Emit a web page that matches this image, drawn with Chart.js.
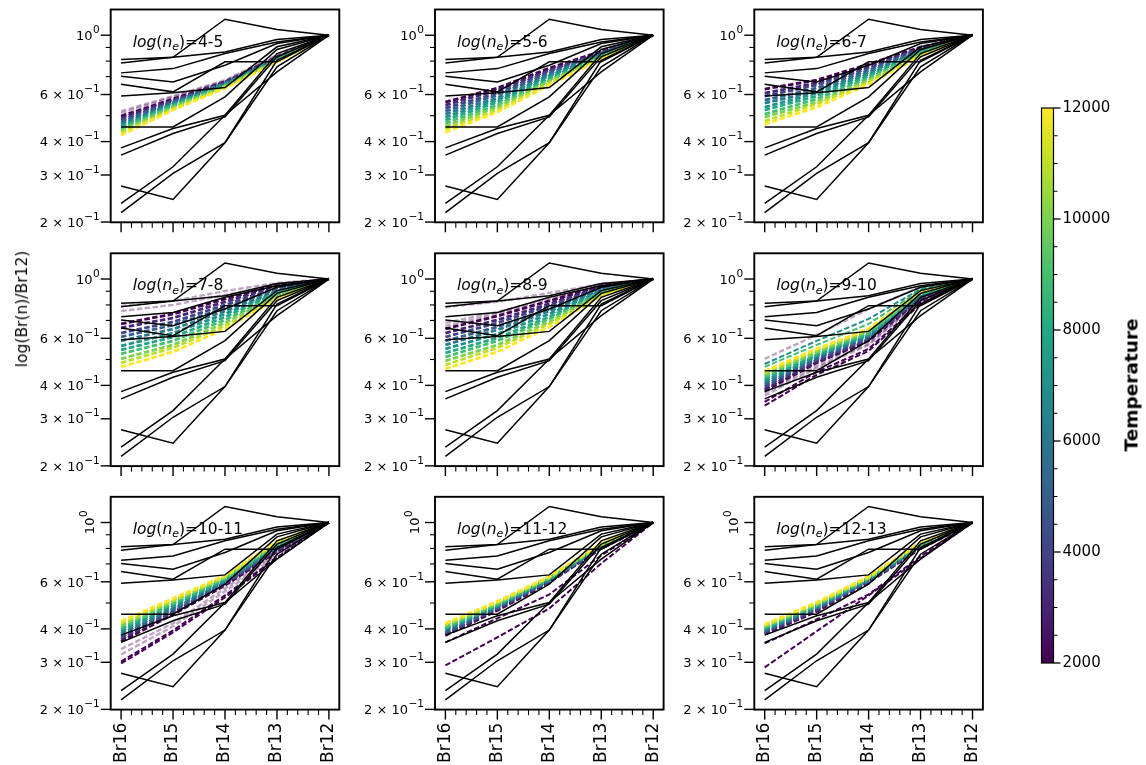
<!DOCTYPE html>
<html><head><meta charset="utf-8">
<script src="https://cdn.jsdelivr.net/npm/chart.js@4.4.0/dist/chart.umd.min.js"></script>
<style>
html,body{margin:0;padding:0;background:#fff;}
#wrap{position:relative;width:1146px;height:765px;overflow:hidden;background:#fff;}
#wrap canvas{position:absolute;left:0;top:0;}
.lbl{position:absolute;font-family:"DejaVu Sans";color:#000;white-space:nowrap;transform:translate(-50%,-50%) rotate(-90deg);}
</style></head><body><div id="wrap"></div>
<script>
// ---------------- data ----------------
const xTickLabels = ['Br16','Br15','Br14','Br13','Br12'];
const yMajorTicks = [0.2, 0.3, 0.4, 0.6, 1.0];
const yTickMantissa = ['2','3','4','6',''];
const yTickExponent = ['\u22121','\u22121','\u22121','\u22121','0'];
const yMinorTicks = [0.5, 0.7, 0.8, 0.9];
const panelNames = ['4-5','5-6','6-7','7-8','8-9','9-10','10-11','11-12','12-13'];
const temps = [2000,3000,4000,5000,6000,7000,8000,9000,10000,11000,12000];
const cbarTicks = [2000,4000,6000,8000,10000,12000];
const cbarMin = 2000, cbarMax = 12000;

// observed line ratios: Br16, Br15, Br14, Br13, Br12
const observed = [
  [0.811,0.827,1.148,1.050,1],
  [0.788,0.827,0.866,0.963,1],
  [0.723,0.750,0.854,0.944,1],
  [0.703,0.669,0.772,0.931,1],
  [0.656,0.614,0.795,0.795,1],
  [0.593,0.609,0.637,0.905,1],
  [0.454,0.454,0.588,0.884,1],
  [0.379,0.448,0.502,0.854,1],
  [0.356,0.429,0.495,0.830,1],
  [0.273,0.243,0.396,0.806,1],
  [0.235,0.322,0.502,0.729,1],
  [0.217,0.304,0.396,0.761,1]
];

// model curves, one row per temperature in `temps`
const model_4_5 = [
  [0.498,0.577,0.668,0.828,1],[0.490,0.572,0.668,0.828,1],[0.481,0.567,0.662,0.821,1],
  [0.473,0.562,0.662,0.821,1],[0.465,0.557,0.656,0.814,1],[0.457,0.553,0.656,0.814,1],
  [0.453,0.548,0.651,0.807,1],[0.446,0.543,0.645,0.807,1],[0.438,0.538,0.645,0.800,1],
  [0.431,0.529,0.639,0.800,1],[0.423,0.525,0.634,0.793,1]];
const model_5_6 = [
  [0.562,0.634,0.753,0.871,1],[0.548,0.623,0.740,0.864,1],[0.534,0.607,0.734,0.857,1],
  [0.520,0.597,0.721,0.857,1],[0.507,0.582,0.709,0.849,1],[0.494,0.572,0.703,0.842,1],
  [0.481,0.562,0.691,0.835,1],[0.469,0.548,0.679,0.828,1],[0.457,0.538,0.673,0.828,1],
  [0.446,0.525,0.662,0.821,1],[0.434,0.516,0.651,0.814,1]];
const model_6_7 = [
  [0.629,0.679,0.779,0.902,1],[0.607,0.662,0.766,0.894,1],[0.592,0.651,0.753,0.887,1],
  [0.572,0.634,0.740,0.879,1],[0.557,0.618,0.727,0.871,1],[0.538,0.607,0.715,0.871,1],
  [0.525,0.592,0.703,0.864,1],[0.507,0.577,0.691,0.857,1],[0.494,0.562,0.679,0.849,1],
  [0.477,0.553,0.668,0.842,1],[0.465,0.538,0.656,0.835,1]];
const model_7_8 = [
  [0.679,0.740,0.842,0.950,1],[0.656,0.715,0.821,0.942,1],[0.628,0.691,0.800,0.926,1],
  [0.607,0.673,0.779,0.918,1],[0.587,0.650,0.759,0.902,1],[0.562,0.628,0.740,0.894,1],
  [0.543,0.607,0.721,0.887,1],[0.525,0.587,0.703,0.871,1],[0.503,0.567,0.685,0.864,1],
  [0.486,0.553,0.668,0.849,1],[0.469,0.534,0.651,0.842,1]];
const model_8_9 = [
  [0.651,0.727,0.828,0.942,1],[0.628,0.703,0.807,0.934,1],[0.607,0.685,0.793,0.926,1],
  [0.587,0.662,0.773,0.918,1],[0.567,0.645,0.759,0.910,1],[0.548,0.623,0.740,0.902,1],
  [0.529,0.602,0.721,0.894,1],[0.511,0.587,0.709,0.887,1],[0.494,0.567,0.691,0.879,1],
  [0.477,0.553,0.679,0.871,1],[0.461,0.534,0.662,0.864,1]];
const model_9_10 = [
  [0.382,0.486,0.587,0.842,1],[0.388,0.490,0.592,0.849,1],[0.395,0.498,0.597,0.857,1],
  [0.402,0.503,0.607,0.857,1],[0.409,0.511,0.613,0.864,1],[0.416,0.516,0.618,0.871,1],
  [0.423,0.520,0.623,0.879,1],[0.431,0.529,0.629,0.887,1],[0.438,0.534,0.639,0.887,1],
  [0.446,0.543,0.645,0.894,1],[0.453,0.548,0.651,0.902,1]];
const model_10_11 = [
  [0.359,0.453,0.582,0.779,1],[0.366,0.461,0.587,0.786,1],[0.372,0.465,0.592,0.793,1],
  [0.378,0.473,0.597,0.800,1],[0.385,0.477,0.602,0.807,1],[0.392,0.486,0.607,0.814,1],
  [0.399,0.494,0.613,0.821,1],[0.405,0.498,0.618,0.828,1],[0.412,0.507,0.623,0.835,1],
  [0.420,0.511,0.629,0.842,1],[0.427,0.520,0.634,0.849,1]];
const model_11_12 = [
  [0.378,0.469,0.597,0.800,1],[0.382,0.473,0.602,0.800,1],[0.385,0.477,0.602,0.807,1],
  [0.388,0.481,0.607,0.807,1],[0.395,0.486,0.607,0.814,1],[0.399,0.486,0.613,0.814,1],
  [0.402,0.490,0.618,0.821,1],[0.405,0.494,0.618,0.821,1],[0.412,0.498,0.623,0.828,1],
  [0.416,0.503,0.623,0.828,1],[0.420,0.507,0.629,0.835,1]];
const model_12_13 = [
  [0.382,0.465,0.597,0.800,1],[0.385,0.469,0.602,0.807,1],[0.388,0.473,0.602,0.807,1],
  [0.392,0.477,0.607,0.814,1],[0.395,0.481,0.607,0.814,1],[0.399,0.486,0.613,0.821,1],
  [0.402,0.486,0.618,0.821,1],[0.405,0.490,0.618,0.828,1],[0.409,0.494,0.623,0.835,1],
  [0.412,0.498,0.623,0.835,1],[0.416,0.503,0.629,0.842,1]];

// faint (semi-transparent) curves: [temperature, Br16..Br12]
const faint_4_5 = [[2000,0.520,0.592,0.679,0.842,1],[2000,0.511,0.587,0.673,0.835,1]];
const faint_7_8 = [[2000,0.793,0.828,0.902,0.966,1],[2000,0.759,0.800,0.871,0.950,1]];
const faint_8_9 = [[2000,0.786,0.821,0.887,0.958,1],[2000,0.685,0.753,0.842,0.950,1],[2000,0.668,0.740,0.828,0.942,1]];
const faint_9_10 = [[2000,0.503,0.618,0.773,0.934,1],[2000,0.375,0.473,0.572,0.835,1],[2000,0.366,0.465,0.567,0.828,1]];
const faint_10_11 = [[2000,0.336,0.420,0.567,0.766,1],[2000,0.321,0.409,0.553,0.753,1]];
// additional solid curves: [temperature, Br16..Br12]
const extra_9_10 = [[9000,0.469,0.567,0.679,0.910,1],[7000,0.481,0.587,0.709,0.918,1],[2000,0.347,0.449,0.548,0.814,1],[2000,0.336,0.438,0.538,0.807,1]];
const extra_10_11 = [[2000,0.302,0.395,0.534,0.740,1],[2000,0.297,0.388,0.525,0.734,1]];
const extra_11_12 = [[2000,0.356,0.438,0.538,0.753,1],[2000,0.292,0.372,0.477,0.703,1]];
const extra_12_13 = [[2000,0.353,0.434,0.538,0.746,1],[2000,0.287,0.392,0.534,0.734,1]];

const modelSets = [model_4_5,model_5_6,model_6_7,model_7_8,model_8_9,model_9_10,model_10_11,model_11_12,model_12_13];
const faintSets = [faint_4_5,[],[],faint_7_8,faint_8_9,faint_9_10,faint_10_11,[],[]];
const extraSets = [[],[],[],[],[],extra_9_10,extra_10_11,extra_11_12,extra_12_13];

// ---------------- layout / style ----------------
const W = 1146, H = 765;
const colLeft = [110.7, 435, 754.3], rowTop = [9.5, 253.3, 496.8];
const PW = 228.6, PH = 212.8;
const FONT = '"DejaVu Sans"';
const wrap = document.getElementById('wrap');

const VIR = [[68,1,84],[72,36,117],[65,68,135],[53,95,141],[42,120,142],[33,145,140],[34,168,132],[68,191,112],[122,209,81],[189,223,38],[253,231,37]];
function viridis(T, alpha){
  let t = (T - cbarMin)/(cbarMax - cbarMin); t = Math.max(0, Math.min(1, t));
  const p = t*10; const i = Math.min(9, Math.floor(p)); const f = p - i;
  const c = VIR[i].map((v,k)=>Math.round(v + (VIR[i+1][k]-v)*f));
  return `rgba(${c[0]},${c[1]},${c[2]},${alpha})`;
}
function addCanvas(){
  const c = document.createElement('canvas'); c.width = W; c.height = H;
  c.style.width = W+'px'; c.style.height = H+'px'; wrap.appendChild(c); return c;
}
function pts(row){ return row.map((v,k)=>({x:k, y:v})); }
function seg(ctx,x1,y1,x2,y2){ ctx.beginPath(); ctx.moveTo(x1,y1); ctx.lineTo(x2,y2); ctx.stroke(); }

function drawPanelLabel(ctx, x, y, name){
  const parts = [
    ['log', 'italic 15.5px '+FONT, 0],
    ['(', '15.5px '+FONT, 0],
    ['n', 'italic 15.5px '+FONT, 0],
    ['e', 'italic 11px '+FONT, 3.5],
    [')', '15.5px '+FONT, 0],
    ['='+name, '15.5px '+FONT, 0]
  ];
  ctx.textAlign = 'left'; ctx.textBaseline = 'alphabetic';
  parts.forEach(p=>{ ctx.font = p[1]; ctx.fillText(p[0], x, y + p[2]); x += ctx.measureText(p[0]).width; });
}
function drawSci(ctx, mant, exp, xr, y){
  const base = mant ? mant + ' \u00d7 10' : '10';
  ctx.font = '13px '+FONT; const wb = ctx.measureText(base).width;
  ctx.font = '10.5px '+FONT; const ws = ctx.measureText(exp).width;
  const x0 = xr - wb - ws;
  ctx.textAlign = 'left'; ctx.textBaseline = 'alphabetic';
  ctx.font = '13px '+FONT; ctx.fillText(base, x0, y + 4.7);
  ctx.font = '10.5px '+FONT; ctx.fillText(exp, x0 + wb + 0.5, y - 2.3);
}

function makePanel(idx){
  const col = idx % 3, row = Math.floor(idx/3);
  const L = colLeft[col], T = rowTop[row];
  const ds = [];
  let ord = 1000;
  faintSets[idx].forEach(r=>ds.push({data:pts(r.slice(1)), borderColor:viridis(r[0],0.35), borderWidth:2.4, borderDash:[5.5,2.4], pointRadius:0, order:ord--}));
  modelSets[idx].forEach((r,k)=>ds.push({data:pts(r), borderColor:viridis(temps[k],1), borderWidth:2.8, borderDash:[5.5,2.4], pointRadius:0, order:ord--}));
  extraSets[idx].forEach(r=>ds.push({data:pts(r.slice(1)), borderColor:viridis(r[0],1), borderWidth:2, borderDash:[5.5,2.4], pointRadius:0, order:ord--}));
  observed.forEach(r=>ds.push({data:pts(r), borderColor:'#000', borderWidth:1.5, pointRadius:0, order:0}));

  const deco = {
    id:'deco'+idx,
    afterDraw(chart){
      const ctx = chart.ctx, a = chart.chartArea, xs = chart.scales.x, ys = chart.scales.y;
      ctx.save();
      ctx.strokeStyle = '#000'; ctx.fillStyle = '#000'; ctx.setLineDash([]);
      ctx.lineWidth = 1.4;
      yMajorTicks.forEach(v=>{ const y = ys.getPixelForValue(v); seg(ctx, a.left-10, y, a.left, y); });
      ctx.lineWidth = 1.1;
      yMinorTicks.forEach(v=>{ const y = ys.getPixelForValue(v); seg(ctx, a.left-5, y, a.left, y); });
      ctx.lineWidth = 1.4;
      xTickLabels.forEach((s,k)=>{ const x = xs.getPixelForValue(k); seg(ctx, x, a.bottom, x, a.bottom+10); });
      ctx.lineWidth = 1.1;
      for(let k=0;k<xTickLabels.length-1;k++){ for(let j=1;j<5;j++){ const x = xs.getPixelForValue(k + j/5); seg(ctx, x, a.bottom, x, a.bottom+5.5); } }
      yMajorTicks.forEach((v,k)=>{
        const y = ys.getPixelForValue(v);
        if(row === 2 && v === 1){
          ctx.save(); ctx.translate(a.left-21, y); ctx.rotate(-Math.PI/2);
          ctx.font = '13px '+FONT; const wb = ctx.measureText('10').width;
          ctx.font = '10.5px '+FONT; const ws = ctx.measureText('0').width;
          const x0 = -(wb+ws)/2;
          ctx.textBaseline='alphabetic'; ctx.textAlign='left';
          ctx.font = '13px '+FONT; ctx.fillText('10', x0, 4.7);
          ctx.font = '10.5px '+FONT; ctx.fillText('0', x0+wb+0.5, -2.3);
          ctx.restore();
        } else {
          drawSci(ctx, yTickMantissa[k], yTickExponent[k], a.left-11.5, y);
        }
      });
      if(row === 2){
        ctx.font = '17px '+FONT; ctx.textAlign='right'; ctx.textBaseline='middle';
        xTickLabels.forEach((s,k)=>{
          const x = xs.getPixelForValue(k);
          ctx.save(); ctx.translate(x, a.bottom+13); ctx.rotate(-Math.PI/2); ctx.fillText(s, 0, 0); ctx.restore();
        });
      }
      ctx.lineWidth = 1.9;
      ctx.strokeRect(a.left, a.top, a.right-a.left, a.bottom-a.top);
      drawPanelLabel(ctx, a.left+22, a.top+37, panelNames[idx]);
      ctx.restore();
    }
  };

  new Chart(addCanvas(), {
    type:'line',
    data:{datasets:ds},
    options:{
      responsive:false, animation:false, events:[], devicePixelRatio:1,
      layout:{padding:{left:L, top:T, right:W-L-PW, bottom:H-T-PH}},
      plugins:{legend:{display:false}, tooltip:{enabled:false}},
      elements:{line:{tension:0, fill:false}},
      scales:{
        x:{type:'linear', min:-0.2, max:4.2, display:false},
        y:{type:'logarithmic', min:0.1996, max:1.248, display:false}
      }
    },
    plugins:[deco]
  });
}
for(let i=0;i<9;i++) makePanel(i);

// ---------------- colorbar ----------------
const cbDeco = {
  id:'cbDeco',
  afterDraw(chart){
    const ctx = chart.ctx, a = chart.chartArea, ys = chart.scales.y;
    ctx.save(); ctx.strokeStyle='#000'; ctx.fillStyle='#000';
    ctx.lineWidth = 1.2; ctx.strokeRect(a.left, a.top, a.right-a.left, a.bottom-a.top);
    ctx.lineWidth = 1.3;
    cbarTicks.forEach(v=>{ const y = ys.getPixelForValue(v); seg(ctx, a.right, y, a.right+7, y); });
    ctx.lineWidth = 1;
    for(let v=cbarMin+500; v<cbarMax; v+=500){ if(v % 2000 !== 0){ const y = ys.getPixelForValue(v); seg(ctx, a.right, y, a.right+4, y); } }
    ctx.font = '15px '+FONT; ctx.textAlign='left'; ctx.textBaseline='middle';
    cbarTicks.forEach(v=>{ const y = ys.getPixelForValue(v); ctx.fillText(String(v), a.right+9, y); });
    ctx.restore();
  }
};
new Chart(addCanvas(), {
  type:'bar',
  data:{labels:['T'], datasets:[{
    data:[[cbarMin, cbarMax]],
    backgroundColor:(c)=>{
      const ch = c.chart, a = ch.chartArea;
      if(!a) return viridis(7000,1);
      const g = ch.ctx.createLinearGradient(0, a.bottom, 0, a.top);
      for(let k=0;k<=10;k++){ g.addColorStop(k/10, viridis(cbarMin + k*(cbarMax-cbarMin)/10, 1)); }
      return g;
    },
    borderWidth:0, barPercentage:1, categoryPercentage:1
  }]},
  options:{
    responsive:false, animation:false, events:[], devicePixelRatio:1,
    layout:{padding:{left:1041.5, right:W-1053.5, top:108, bottom:H-663}},
    plugins:{legend:{display:false}, tooltip:{enabled:false}},
    scales:{ x:{display:false}, y:{min:cbarMin, max:cbarMax, display:false} }
  },
  plugins:[cbDeco]
});

// ---------------- axis titles ----------------
const yl = document.createElement('div'); yl.className='lbl';
yl.style.left='22px'; yl.style.top='309px'; yl.style.fontSize='15.5px';
yl.textContent='log(Br(n)/Br12)'; wrap.appendChild(yl);
const tl = document.createElement('div'); tl.className='lbl';
tl.style.left='1131px'; tl.style.top='385px'; tl.style.fontSize='18.5px'; tl.style.fontWeight='bold';
tl.textContent='Temperature'; wrap.appendChild(tl);
</script></body></html>
